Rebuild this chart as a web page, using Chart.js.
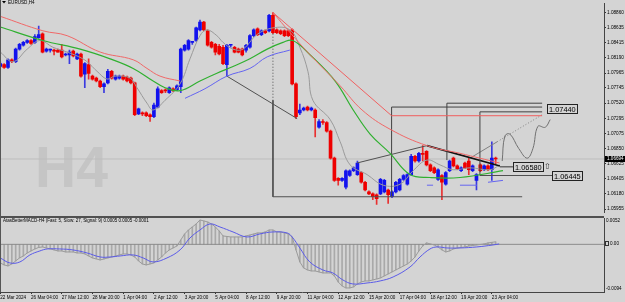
<!DOCTYPE html>
<html><head><meta charset="utf-8">
<script src="https://cdn.jsdelivr.net/npm/chart.js@4.4.1/dist/chart.umd.min.js"></script>
<style>
html,body{margin:0;padding:0;background:#d4d4d4;width:625px;height:302px;overflow:hidden;}
#wrap{position:relative;width:625px;height:302px;}
#main{position:absolute;left:0;top:0;}
#macd{position:absolute;left:0;top:216px;}
</style></head><body>
<div id="wrap">
<canvas id="main" width="625" height="216"></canvas>
<canvas id="macd" width="625" height="86"></canvas>
</div>
<script>
// ---------------- DATA ----------------
const open = [
1.08061,1.08090,1.08047,1.08161,1.08132,1.08318,1.08375,1.08418,1.08446,1.08418,
1.08489,1.08546,1.08289,1.08304,1.08304,1.08304,1.08304,1.08232,1.08232,1.08289,
1.08175,1.08246,1.07947,1.08090,1.07919,1.07890,1.07847,1.07762,1.07819,1.07990,
1.07876,1.07890,1.07919,1.07904,1.07890,1.07819,1.07362,1.07377,1.07377,1.07348,
1.07320,1.07462,1.07705,1.07705,1.07676,1.07733,1.07719,1.07762,1.08304,1.08318,
1.08418,1.08446,1.08603,1.08717,1.08589,1.08418,1.08389,1.08361,1.08346,1.08090,
1.08375,1.08346,1.08318,1.08318,1.08304,1.08346,1.08517,1.08617,1.08532,1.08589,
1.08589,1.08817,1.08603,1.08589,1.08589,1.08589,1.08603,1.07804,1.07377,1.07419,
1.07462,1.07419,1.07419,1.07163,1.07248,1.07234,1.07106,1.06706,1.06407,1.06378,
1.06279,1.06450,1.06521,1.06464,1.06492,1.06350,1.06207,1.06179,1.06165,1.06179,
1.06207,1.06236,1.06136,1.06207,1.06236,1.06393,1.06321,1.06464,1.06735,1.06664,
1.06778,1.06806,1.06607,1.06564,1.06393,1.06450,1.06321,1.06521,1.06706,1.06592,
1.06521,1.06635,1.06664,1.06521,1.06378,1.06607,1.06535,1.06592,1.06535,1.06706];
const high = [
1.08132,1.08104,1.08175,1.08175,1.08332,1.08403,1.08432,1.08460,1.08460,1.08532,
1.08660,1.08560,1.08332,1.08318,1.08318,1.08318,1.08389,1.08261,1.08304,1.08304,
1.08261,1.08261,1.08118,1.08175,1.07933,1.07904,1.07861,1.07819,1.08018,1.08004,
1.07933,1.07933,1.07933,1.07919,1.07904,1.07833,1.07448,1.07391,1.07391,1.07362,
1.07519,1.07762,1.07719,1.07733,1.07762,1.07747,1.07790,1.08332,1.08389,1.08460,
1.08432,1.08646,1.08746,1.08731,1.08603,1.08432,1.08403,1.08389,1.08375,1.08389,
1.08389,1.08361,1.08332,1.08332,1.08389,1.08532,1.08617,1.08632,1.08603,1.08603,
1.08831,1.08860,1.08617,1.08603,1.08603,1.08603,1.08617,1.07819,1.07505,1.07462,
1.07476,1.07462,1.07434,1.07277,1.07277,1.07248,1.07120,1.06721,1.06421,1.06421,
1.06535,1.06535,1.06578,1.06664,1.06507,1.06364,1.06222,1.06193,1.06179,1.06407,
1.06393,1.06250,1.06222,1.06364,1.06407,1.06464,1.06478,1.06763,1.06749,1.06792,
1.06892,1.06820,1.06621,1.06578,1.06550,1.06464,1.06507,1.06678,1.06721,1.06607,
1.06578,1.06649,1.06706,1.06607,1.06478,1.06621,1.06607,1.06607,1.06949,1.06721];
const low = [
1.08047,1.08033,1.08033,1.08118,1.08118,1.08304,1.08361,1.08403,1.08389,1.08403,
1.08475,1.08261,1.08275,1.08275,1.08232,1.08275,1.08189,1.08218,1.08104,1.08204,
1.08161,1.07904,1.07747,1.07876,1.07861,1.07833,1.07747,1.07676,1.07804,1.07876,
1.07861,1.07876,1.07861,1.07833,1.07804,1.07334,1.07348,1.07334,1.07320,1.07248,
1.07305,1.07448,1.07662,1.07676,1.07662,1.07690,1.07705,1.07676,1.08289,1.08304,
1.08389,1.08432,1.08589,1.08589,1.08361,1.08332,1.08232,1.08232,1.08090,1.07919,
1.08346,1.08261,1.08261,1.08218,1.08275,1.08332,1.08503,1.08517,1.08517,1.08546,
1.08574,1.08546,1.08546,1.08532,1.08503,1.08503,1.07790,1.07291,1.07348,1.07405,
1.07405,1.07405,1.07020,1.07148,1.07206,1.07091,1.06692,1.06364,1.06307,1.06364,
1.06250,1.06435,1.06507,1.06450,1.06336,1.06222,1.06165,1.06093,1.06022,1.06165,
1.06193,1.06036,1.06122,1.06193,1.06222,1.06378,1.06307,1.06450,1.06649,1.06649,
1.06664,1.06592,1.06507,1.06478,1.06378,1.06093,1.06307,1.06507,1.06578,1.06535,
1.06507,1.06550,1.06464,1.06507,1.06236,1.06507,1.06521,1.06521,1.06378,1.06621];
const close = [
1.08104,1.08047,1.08161,1.08132,1.08318,1.08389,1.08418,1.08446,1.08403,1.08503,
1.08532,1.08275,1.08318,1.08310,1.08289,1.08275,1.08204,1.08246,1.08275,1.08218,
1.08246,1.07919,1.08104,1.07961,1.07876,1.07847,1.07762,1.07804,1.07990,1.07890,
1.07919,1.07919,1.07876,1.07847,1.07819,1.07348,1.07434,1.07362,1.07334,1.07320,
1.07491,1.07733,1.07676,1.07700,1.07747,1.07705,1.07776,1.08318,1.08375,1.08446,
1.08422,1.08632,1.08717,1.08603,1.08375,1.08346,1.08275,1.08246,1.08104,1.08375,
1.08380,1.08275,1.08275,1.08232,1.08375,1.08517,1.08603,1.08532,1.08589,1.08560,
1.08817,1.08560,1.08560,1.08546,1.08517,1.08517,1.07804,1.07320,1.07419,1.07448,
1.07419,1.07448,1.07305,1.07248,1.07234,1.07106,1.06706,1.06378,1.06378,1.06407,
1.06521,1.06521,1.06564,1.06635,1.06350,1.06236,1.06179,1.06136,1.06107,1.06393,
1.06378,1.06165,1.06207,1.06350,1.06393,1.06450,1.06464,1.06735,1.06664,1.06778,
1.06763,1.06607,1.06521,1.06492,1.06535,1.06350,1.06492,1.06664,1.06592,1.06550,
1.06564,1.06564,1.06535,1.06592,1.06464,1.06521,1.06592,1.06535,1.06706,1.06694];

// moving-average style lines: [barIndex, price]
const redTrailA = [[0,1.08803],[11.1,1.08589],[17.4,1.08517],[26,1.08275],[34.6,1.08161],[38.2,1.08033],[41.6,1.07919],[46.8,1.07847]];
const redTrailB = [[71,1.08860],[75.5,1.08560],[80.7,1.08232],[88.5,1.07776],[94.2,1.07419],[101.5,1.07134],[111.1,1.06892],[119.7,1.06778],[130,1.06635]];
const greenMA = [[0,1.08646],[11.1,1.08446],[20.8,1.08318],[28.6,1.08175],[34.6,1.08033],[39.8,1.07847],[42.9,1.07747],[46.8,1.07705],[52,1.07847],[56.4,1.07961],[60.6,1.08061],[65,1.08175],[69.5,1.08318],[73.6,1.08418],[76.2,1.08446],[80.7,1.08232],[87.2,1.07847],[91.9,1.07419],[96.3,1.07063],[101.5,1.06778],[106.7,1.06464],[111.9,1.06421],[119.7,1.06421],[130.9,1.06521]];
const blueTrailA = [[48.1,1.07591],[53.3,1.07733],[59,1.07919],[65,1.08033],[69.5,1.08204],[75.4,1.08304]];
const blueTrailB = [[111.1,1.06307],[112.7,1.06307]];
const blueTrailC = [[119.7,1.06307],[124.1,1.06307]];
const blueTrailD = [[127,1.06350],[130.9,1.06378]];
const grayMA = [[0,1.08275],[3.3,1.08132],[7,1.08318],[10.3,1.08446],[13.7,1.08346],[17.4,1.08275],[21.5,1.08175],[23.4,1.08090],[25.2,1.07990],[27.8,1.07876],[29.9,1.07919],[33.8,1.07890],[35.6,1.07747],[38.2,1.07519],[39.8,1.07419],[42.9,1.07562],[46.8,1.07804],[49.4,1.08175],[52,1.08517],[53.8,1.08603],[56.4,1.08517],[58,1.08418],[60.6,1.08318],[63.2,1.08318],[66.8,1.08532],[71,1.08632],[75.4,1.08603],[78,1.08346],[80.1,1.07990],[81.4,1.07562],[85.9,1.07277],[88.5,1.06949],[91.1,1.06607],[95.5,1.06464],[99.7,1.06307],[104.1,1.06321],[107.5,1.06521],[111.1,1.06678],[114.5,1.06607],[117.9,1.06535],[122.3,1.06564],[127.5,1.06535],[130.1,1.06607]];

// MACD panel
const macd = [
-0.00367,-0.00406,-0.00426,-0.00387,-0.00328,-0.00268,-0.00229,-0.00170,-0.00130,-0.00091,
-0.00061,-0.00051,-0.00071,-0.00091,-0.00110,-0.00130,-0.00130,-0.00150,-0.00150,-0.00150,
-0.00170,-0.00170,-0.00189,-0.00229,-0.00268,-0.00288,-0.00308,-0.00288,-0.00268,-0.00249,
-0.00229,-0.00209,-0.00189,-0.00189,-0.00209,-0.00249,-0.00328,-0.00387,-0.00406,-0.00387,
-0.00367,-0.00308,-0.00249,-0.00170,-0.00110,-0.00071,-0.00032,0.00087,0.00205,0.00284,
0.00343,0.00402,0.00481,0.00462,0.00442,0.00402,0.00343,0.00264,0.00166,0.00156,
0.00146,0.00146,0.00146,0.00146,0.00166,0.00185,0.00205,0.00225,0.00225,0.00245,
0.00284,0.00284,0.00245,0.00245,0.00225,0.00205,0.00146,-0.00110,-0.00347,-0.00466,
-0.00505,-0.00525,-0.00525,-0.00545,-0.00564,-0.00564,-0.00564,-0.00623,-0.00742,-0.00821,
-0.00860,-0.00860,-0.00840,-0.00781,-0.00742,-0.00722,-0.00722,-0.00702,-0.00683,-0.00663,
-0.00623,-0.00584,-0.00545,-0.00505,-0.00466,-0.00426,-0.00387,-0.00328,-0.00249,-0.00130,
-0.00032,0.00028,0.00008,-0.00012,-0.00051,-0.00110,-0.00150,-0.00130,-0.00091,-0.00071,
-0.00061,-0.00051,-0.00032,-0.00022,-0.00012,-0.00002,0.00008,0.00028,0.00040,0.00050];
const signal = [[0,-0.00268],[2.5,-0.00367],[5.1,-0.00347],[7.7,-0.00209],[10.3,-0.00130],[12.2,-0.00091],[15.5,-0.00091],[18.9,-0.00110],[22.6,-0.00170],[26,-0.00249],[28.6,-0.00249],[31.2,-0.00229],[34.6,-0.00209],[37.2,-0.00268],[39.8,-0.00347],[43.4,-0.00268],[46.8,-0.00110],[49.4,0.00126],[52,0.00284],[54.6,0.00402],[57.2,0.00343],[60.6,0.00245],[64.2,0.00146],[67.6,0.00205],[71,0.00245],[74.7,0.00225],[76,0.00146],[78,-0.00071],[80.6,-0.00347],[84,-0.00505],[86.6,-0.00564],[89.2,-0.00702],[91.8,-0.00781],[95.5,-0.00762],[98.9,-0.00722],[102.3,-0.00643],[106.7,-0.00446],[109.3,-0.00249],[111.9,-0.00091],[113.7,-0.00051],[116.3,-0.00071],[119.7,-0.00071],[124.1,-0.00051],[128.3,-0.00012],[129.9,0.00008]];

// axis ticks
const priceTicks = [1.08860,1.08635,1.08415,1.08190,1.07965,1.07745,1.07520,1.07295,1.07075,1.06850,1.06625,1.06405,1.06180,1.05955];
const timeTickBars = [0,8,16,24,32,40,48,56,64,72,80,88,96,104,112,120,128];
const timeTickLabels = ['22 Mar 2024','26 Mar 04:00','27 Mar 12:00','28 Mar 20:00','1 Apr 04:00','2 Apr 12:00','3 Apr 20:00','5 Apr 04:00','8 Apr 12:00','9 Apr 20:00','11 Apr 04:00','12 Apr 12:00','15 Apr 20:00','17 Apr 04:00','18 Apr 12:00','19 Apr 20:00','23 Apr 04:00'];
const macdLabels = [0.0052, 0, -0.0094];
const bidPrice = 1.06694;

// drawing objects (bar index, price)
const zigzag = [[59,1.07919],[77.3,1.07291]];
const vDotted = [[71,1.08546],[71,1.07562]];
const baseBracket = [[71,1.07562],[71,1.06136],[135.9,1.06136]];
const bracketA = [[101.9,1.06136],[101.9,1.07462],[141.1,1.07462]];
const bracketB = [[116.3,1.06678],[116.3,1.07519],[141.1,1.07519]];
const bracketC = [[124.9,1.06450],[124.9,1.07391],[141.1,1.07391]];
const redTarget = [[71,1.08860],[101.9,1.07334],[141.1,1.07334]];
const triLeft = [[92.9,1.06635],[111.1,1.06892]];
const triRight = [[111.1,1.06892],[130.1,1.06592]];
const link658 = [[130.1,1.06578],[133.5,1.06578]];
const level644 = [[124.9,1.06450],[143.7,1.06450]];
const projSolid = [[122.3,1.06706],[129.4,1.06949]];
const projDotted = [[129.4,1.06949],[141.1,1.07348]];
const squiggle = [[130.7,1.06664],[131.4,1.07034],[132.7,1.07063],[135,1.06850],[137.2,1.06706],[138.7,1.06849],[140,1.07177],[141.9,1.07163],[143.2,1.07277]];
const levelLabels = [
  {text:'1.07440', bar:142.4, price:1.07440},
  {text:'1.06580', bar:133.5, price:1.06580, arrow:true},
  {text:'1.06445', bar:143.6, price:1.06445}
];

// ---------------- RENDER ----------------
const X_MIN = -0.08, X_MAX = 157.21;
const UP = '#1212ee', DN = '#ee0000';
const FONT = '"Liberation Sans", Arial, sans-serif';

const pts = a => a.map(p => ({x:p[0], y:p[1]}));
function lineDS(a, color, width, extra){
  return Object.assign({type:'line', data:pts(a), borderColor:color, borderWidth:width,
    pointRadius:0, fill:false, tension:0, order:1, spanGaps:false}, extra||{});
}
const isUp = i => close[i] >= open[i];
const bodyData = open.map((o,i)=>({x:i, y:[Math.min(o,close[i]), Math.max(o,close[i])]}));
const wickData = high.map((h,i)=>({x:i, y:[low[i], h]}));
const bodyCol = open.map((o,i)=> isUp(i)?UP:DN);
const wickCol = open.map((o,i)=> isUp(i)?'#3a3ae0':'#e83030');

const mainDecor = {
  id:'mainDecor',
  beforeDatasetsDraw(chart){
    const ctx = chart.ctx; ctx.save();
    ctx.font = 'bold 57px ' + FONT; ctx.fillStyle = '#c5c5c5'; ctx.textBaseline = 'alphabetic';
    ctx.fillText('H4', 35, 187);
    ctx.restore();
  },
  afterDatasetsDraw(chart){
    const ctx = chart.ctx, xs = chart.scales.x, ys = chart.scales.y;
    ctx.save();
    ctx.fillStyle = '#555'; ctx.fillRect(0,0,1,216);
    ctx.fillStyle = '#000'; ctx.font = '4.6px ' + FONT; ctx.textBaseline = 'top';
    ctx.fillText('EURUSD,H4', 8, 0.5);
    ctx.beginPath(); ctx.moveTo(2,1); ctx.lineTo(6,1); ctx.lineTo(4,3.5); ctx.closePath(); ctx.fill();
    levelLabels.forEach(l => {
      const x = Math.round(xs.getPixelForValue(l.bar)), y = ys.getPixelForValue(l.price);
      ctx.font = '7.4px ' + FONT;
      const w = Math.round(ctx.measureText(l.text).width + 3);
      const top = Math.round(y - 5);
      ctx.fillStyle = '#d4d4d4'; ctx.fillRect(x, top, w, 10);
      ctx.strokeStyle = '#222'; ctx.lineWidth = 1; ctx.strokeRect(x+0.5, top+0.5, w, 9);
      ctx.fillStyle = '#000'; ctx.textBaseline = 'middle'; ctx.fillText(l.text, x+2, top+5.5);
      if (l.arrow){ ctx.font = '8px "DejaVu Sans"'; ctx.fillStyle='#333'; ctx.fillText('\u21E7', x+w+1, top+5); }
    });
    ctx.restore();
  },
  afterDraw(chart){
    const ctx = chart.ctx, ys = chart.scales.y, a = chart.chartArea;
    const y = ys.getPixelForValue(bidPrice);
    ctx.save();
    ctx.fillStyle = '#000'; ctx.fillRect(a.right+1, Math.round(y)-3, 20, 6);
    ctx.fillStyle = '#fff'; ctx.font = '4.6px ' + FONT; ctx.textBaseline = 'middle';
    ctx.fillText(bidPrice.toFixed(5), a.right+3, Math.round(y));
    ctx.restore();
  }
};

new Chart(document.getElementById('main'), {
  type:'bar',
  data:{datasets:[
    lineDS([[X_MIN-1,bidPrice],[X_MAX+1,bidPrice]], '#bdbdbd', 1, {order:20}),
    lineDS(grayMA, '#9a9a9a', 1, {tension:0.4, order:3}),
    lineDS(redTrailA, '#f06868', 1, {tension:0.4}),
    lineDS(redTrailB, '#f06868', 1, {tension:0.4}),
    lineDS(redTarget, '#f06060', 1),
    lineDS(greenMA, '#30b030', 1.2, {tension:0.4}),
    lineDS(blueTrailA, '#6464f0', 1, {tension:0.4}),
    lineDS(blueTrailB, '#6464f0', 1),
    lineDS(blueTrailC, '#6464f0', 1),
    lineDS(blueTrailD, '#6464f0', 1),
    lineDS(zigzag, '#505050', 1),
    lineDS(vDotted, '#505050', 1, {borderDash:[1,2]}),
    lineDS(baseBracket, '#505050', 1),
    lineDS(bracketA, '#404040', 1),
    lineDS(bracketB, '#404040', 1),
    lineDS(bracketC, '#404040', 1),
    lineDS(triLeft, '#505050', 1),
    lineDS(triRight, '#111', 1.6),
    lineDS(link658, '#333', 1),
    lineDS(level644, '#505050', 1),
    lineDS(projSolid, '#808080', 1),
    lineDS(projDotted, '#808080', 1, {borderDash:[1,2]}),
    lineDS(squiggle, '#707070', 1, {tension:0.4}),
    {type:'bar', data:wickData, backgroundColor:wickCol, barThickness:1, grouped:false, order:6},
    {type:'bar', data:bodyData, backgroundColor:bodyCol, barThickness:3, minBarLength:1, grouped:false, order:5}
  ]},
  options:{
    responsive:false, animation:false, events:[],
    layout:{padding:0, autoPadding:false},
    plugins:{legend:{display:false}, tooltip:{enabled:false}},
    scales:{
      x:{type:'linear', min:X_MIN, max:X_MAX, offset:false, display:false},
      y:{position:'right', min:1.05908, max:1.08988,
        afterBuildTicks: s => { s.ticks = priceTicks.map(v=>({value:v})); },
        afterFit: s => { s.width = 21; },
        ticks:{font:{family:FONT, size:4.7}, color:'#000', padding:1, autoSkip:false, callback:v=>Number(v).toFixed(5)},
        grid:{drawOnChartArea:false, drawTicks:true, tickLength:2, color:'#333'},
        border:{display:true, color:'#444', width:1}
      }
    }
  },
  plugins:[mainDecor]
});

const macdDecor = {
  id:'macdDecor',
  afterDraw(chart){
    const ctx = chart.ctx, a = chart.chartArea, ys = chart.scales.y;
    ctx.save();
    ctx.fillStyle = '#505050'; ctx.fillRect(0, 0, a.right, 2);
    ctx.fillStyle = '#555'; ctx.fillRect(0, 0, 1, a.bottom);
    ctx.fillStyle = '#000'; ctx.font = '4.5px ' + FONT; ctx.textBaseline = 'top';
    ctx.fillText('AtasBetterMACD-H4 (Fast: 5, Slow: 27, Signal: 9) 0.0005 0.0005 -0.0001', 3, 2.5);
    ctx.font = '4.6px ' + FONT;
    ctx.textBaseline = 'top'; ctx.fillText(macdLabels[0].toFixed(4), a.right+2, a.top+0.5);
    ctx.textBaseline = 'middle';
    const y0 = Math.round(ys.getPixelForValue(macdLabels[1]));
    ctx.strokeStyle = '#333'; ctx.strokeRect(a.right+1.5, y0-2.5, 3, 4);
    ctx.fillText('0.00', a.right+6, y0);
    ctx.textBaseline = 'bottom'; ctx.fillText(macdLabels[2].toFixed(4), a.right+2, a.bottom-0.5);
    ctx.restore();
  }
};

new Chart(document.getElementById('macd'), {
  type:'bar',
  data:{datasets:[
    lineDS(signal, '#5a5ae8', 1, {tension:0.4, order:0}),
    lineDS(macd.map((v,i)=>[i,v]), '#9a9a9a', 1, {order:1}),
    lineDS([[X_MIN-1,0],[X_MAX+1,0]], '#8c8c8c', 1, {order:2}),
    {type:'bar', data:macd.map((v,i)=>({x:i,y:v})), backgroundColor:'#a9a9a9', barThickness:1, grouped:false, order:3}
  ]},
  options:{
    responsive:false, animation:false, events:[],
    layout:{padding:{top:2, left:0, right:0, bottom:0}, autoPadding:false},
    plugins:{legend:{display:false}, tooltip:{enabled:false}},
    scales:{
      x:{type:'linear', min:X_MIN, max:X_MAX, position:'bottom', offset:false,
        afterBuildTicks: s => { s.ticks = timeTickBars.map(v=>({value:v})); },
        afterFit: s => { s.height = 10; s.paddingLeft = 0; s.paddingRight = 0; },
        ticks:{align:'start', font:{family:FONT, size:4.6}, color:'#000', padding:1, maxRotation:0, autoSkip:false,
          callback:v => timeTickLabels[timeTickBars.indexOf(v)]},
        grid:{drawOnChartArea:false, drawTicks:true, tickLength:2, color:'#333', offset:false},
        border:{display:true, color:'#444', width:1}
      },
      y:{position:'right', min:-0.0094, max:0.0052,
        afterFit: s => { s.width = 21; },
        ticks:{display:false}, grid:{display:false},
        border:{display:true, color:'#444', width:1}
      }
    }
  },
  plugins:[macdDecor]
});
</script>
</body></html>
